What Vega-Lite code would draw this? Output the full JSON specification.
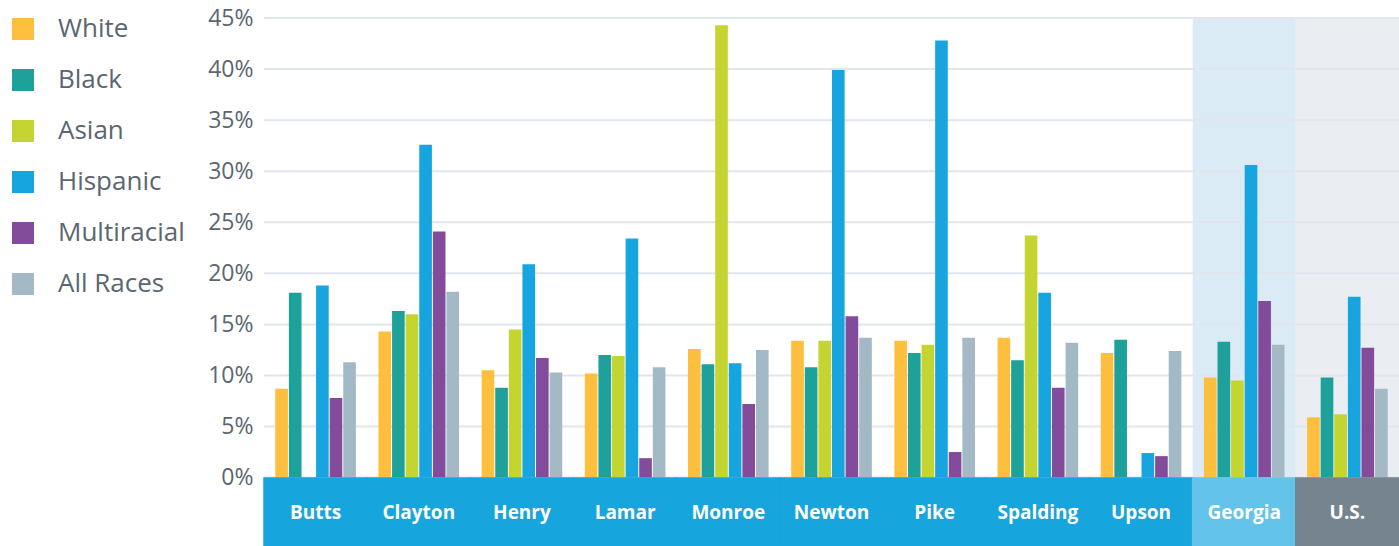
{
  "$schema": "https://vega.github.io/schema/vega-lite/v6.json",
  "width": 1135,
  "height": 528,
  "autosize": {"type": "none"},
  "padding": {"left": 264, "top": 18, "right": 0, "bottom": 0},
  "background": "white",
  "config": {
    "view": {"stroke": null},
    "font": "Open Sans"
  },
  "datasets": {
    "rates": [
      {"region": "Butts", "race": "White", "pct": 8.7},
      {"region": "Butts", "race": "Black", "pct": 18.1},
      {"region": "Butts", "race": "Hispanic", "pct": 18.8},
      {"region": "Butts", "race": "Multiracial", "pct": 7.8},
      {"region": "Butts", "race": "All Races", "pct": 11.3},
      {"region": "Clayton", "race": "White", "pct": 14.3},
      {"region": "Clayton", "race": "Black", "pct": 16.3},
      {"region": "Clayton", "race": "Asian", "pct": 16.0},
      {"region": "Clayton", "race": "Hispanic", "pct": 32.6},
      {"region": "Clayton", "race": "Multiracial", "pct": 24.1},
      {"region": "Clayton", "race": "All Races", "pct": 18.2},
      {"region": "Henry", "race": "White", "pct": 10.5},
      {"region": "Henry", "race": "Black", "pct": 8.8},
      {"region": "Henry", "race": "Asian", "pct": 14.5},
      {"region": "Henry", "race": "Hispanic", "pct": 20.9},
      {"region": "Henry", "race": "Multiracial", "pct": 11.7},
      {"region": "Henry", "race": "All Races", "pct": 10.3},
      {"region": "Lamar", "race": "White", "pct": 10.2},
      {"region": "Lamar", "race": "Black", "pct": 12.0},
      {"region": "Lamar", "race": "Asian", "pct": 11.9},
      {"region": "Lamar", "race": "Hispanic", "pct": 23.4},
      {"region": "Lamar", "race": "Multiracial", "pct": 1.9},
      {"region": "Lamar", "race": "All Races", "pct": 10.8},
      {"region": "Monroe", "race": "White", "pct": 12.6},
      {"region": "Monroe", "race": "Black", "pct": 11.1},
      {"region": "Monroe", "race": "Asian", "pct": 44.3},
      {"region": "Monroe", "race": "Hispanic", "pct": 11.2},
      {"region": "Monroe", "race": "Multiracial", "pct": 7.2},
      {"region": "Monroe", "race": "All Races", "pct": 12.5},
      {"region": "Newton", "race": "White", "pct": 13.4},
      {"region": "Newton", "race": "Black", "pct": 10.8},
      {"region": "Newton", "race": "Asian", "pct": 13.4},
      {"region": "Newton", "race": "Hispanic", "pct": 39.9},
      {"region": "Newton", "race": "Multiracial", "pct": 15.8},
      {"region": "Newton", "race": "All Races", "pct": 13.7},
      {"region": "Pike", "race": "White", "pct": 13.4},
      {"region": "Pike", "race": "Black", "pct": 12.2},
      {"region": "Pike", "race": "Asian", "pct": 13.0},
      {"region": "Pike", "race": "Hispanic", "pct": 42.8},
      {"region": "Pike", "race": "Multiracial", "pct": 2.5},
      {"region": "Pike", "race": "All Races", "pct": 13.7},
      {"region": "Spalding", "race": "White", "pct": 13.7},
      {"region": "Spalding", "race": "Black", "pct": 11.5},
      {"region": "Spalding", "race": "Asian", "pct": 23.7},
      {"region": "Spalding", "race": "Hispanic", "pct": 18.1},
      {"region": "Spalding", "race": "Multiracial", "pct": 8.8},
      {"region": "Spalding", "race": "All Races", "pct": 13.2},
      {"region": "Upson", "race": "White", "pct": 12.2},
      {"region": "Upson", "race": "Black", "pct": 13.5},
      {"region": "Upson", "race": "Hispanic", "pct": 2.4},
      {"region": "Upson", "race": "Multiracial", "pct": 2.1},
      {"region": "Upson", "race": "All Races", "pct": 12.4},
      {"region": "Georgia", "race": "White", "pct": 9.8},
      {"region": "Georgia", "race": "Black", "pct": 13.3},
      {"region": "Georgia", "race": "Asian", "pct": 9.5},
      {"region": "Georgia", "race": "Hispanic", "pct": 30.6},
      {"region": "Georgia", "race": "Multiracial", "pct": 17.3},
      {"region": "Georgia", "race": "All Races", "pct": 13.0},
      {"region": "U.S.", "race": "White", "pct": 5.9},
      {"region": "U.S.", "race": "Black", "pct": 9.8},
      {"region": "U.S.", "race": "Asian", "pct": 6.2},
      {"region": "U.S.", "race": "Hispanic", "pct": 17.7},
      {"region": "U.S.", "race": "Multiracial", "pct": 12.7},
      {"region": "U.S.", "race": "All Races", "pct": 8.7}
    ],
    "regions": [
      {"region": "Butts", "level": "county"},
      {"region": "Clayton", "level": "county"},
      {"region": "Henry", "level": "county"},
      {"region": "Lamar", "level": "county"},
      {"region": "Monroe", "level": "county"},
      {"region": "Newton", "level": "county"},
      {"region": "Pike", "level": "county"},
      {"region": "Spalding", "level": "county"},
      {"region": "Upson", "level": "county"},
      {"region": "Georgia", "level": "state"},
      {"region": "U.S.", "level": "nation"}
    ],
    "gridlines": [
      {"pct": 0}, {"pct": 5}, {"pct": 10}, {"pct": 15}, {"pct": 20},
      {"pct": 25}, {"pct": 30}, {"pct": 35}, {"pct": 40}, {"pct": 45}
    ]
  },
  "encoding": {
    "x": {
      "field": "region",
      "type": "nominal",
      "axis": null,
      "scale": {
        "domain": ["Butts", "Clayton", "Henry", "Lamar", "Monroe", "Newton", "Pike", "Spalding", "Upson", "Georgia", "U.S."],
        "paddingInner": 0,
        "paddingOuter": 0
      }
    }
  },
  "resolve": {"scale": {"y": "shared"}},
  "layer": [
    {
      "data": {"name": "regions"},
      "transform": [{"filter": "datum.level !== 'county'"}],
      "mark": {"type": "rect"},
      "encoding": {
        "y": {"datum": 45, "type": "quantitative"},
        "y2": {"datum": 0},
        "fill": {
          "condition": {"test": "datum.level === 'state'", "value": "#dbebf5"},
          "value": "#eaeef3"
        }
      }
    },
    {
      "data": {"name": "gridlines"},
      "mark": {"type": "rule", "stroke": "#e1e5ee", "strokeWidth": 2},
      "encoding": {
        "x": {"value": 0},
        "x2": {"value": 1135},
        "y": {
          "field": "pct",
          "type": "quantitative",
          "scale": {"domain": [-6.7, 45], "nice": false, "zero": false},
          "axis": {
            "values": [0, 5, 10, 15, 20, 25, 30, 35, 40, 45],
            "labelExpr": "datum.value + '%'",
            "title": null,
            "grid": false,
            "domain": false,
            "ticks": false,
            "labelPadding": 11,
            "labelFontSize": 23,
            "labelColor": "#5b6670",
            "labelFont": "Open Sans"
          }
        }
      }
    },
    {
      "data": {"name": "rates"},
      "mark": {"type": "bar"},
      "encoding": {
        "xOffset": {
          "field": "race",
          "type": "nominal",
          "scale": {
            "domain": ["White", "Black", "Asian", "Hispanic", "Multiracial", "All Races"],
            "paddingInner": 0.07,
            "paddingOuter": 0.83
          }
        },
        "y": {"field": "pct", "type": "quantitative"},
        "color": {
          "field": "race",
          "type": "nominal",
          "scale": {
            "domain": ["White", "Black", "Asian", "Hispanic", "Multiracial", "All Races"],
            "range": ["#fdbf3d", "#1ea19b", "#c4d531", "#16a5de", "#824c9b", "#a4b9c6"]
          },
          "legend": {
            "title": null,
            "orient": "none",
            "legendX": -254,
            "legendY": -2,
            "symbolType": "square",
            "symbolSize": 484,
            "symbolStrokeWidth": 0,
            "symbolOpacity": 1,
            "labelFontSize": 26,
            "labelFont": "Open Sans",
            "labelColor": "#5b6670",
            "labelOffset": 22,
            "rowPadding": 25,
            "labelLimit": 300
          }
        }
      }
    },
    {
      "data": {"name": "regions"},
      "mark": {"type": "rect", "strokeWidth": 1.5},
      "encoding": {
        "y": {"datum": -0.05, "type": "quantitative"},
        "y2": {"datum": -6.7},
        "fill": {
          "condition": [
            {"test": "datum.level === 'state'", "value": "#63c3eb"},
            {"test": "datum.level === 'nation'", "value": "#76848f"}
          ],
          "value": "#17a5de"
        },
        "stroke": {
          "condition": [
            {"test": "datum.level === 'state'", "value": "#63c3eb"},
            {"test": "datum.level === 'nation'", "value": "#76848f"}
          ],
          "value": "#17a5de"
        }
      }
    },
    {
      "data": {"name": "regions"},
      "mark": {
        "type": "text",
        "color": "white",
        "fontWeight": "bold",
        "fontSize": 19,
        "font": "Open Sans",
        "baseline": "middle",
        "align": "center"
      },
      "encoding": {
        "y": {"datum": -3.45, "type": "quantitative"},
        "text": {"field": "region"}
      }
    }
  ]
}
